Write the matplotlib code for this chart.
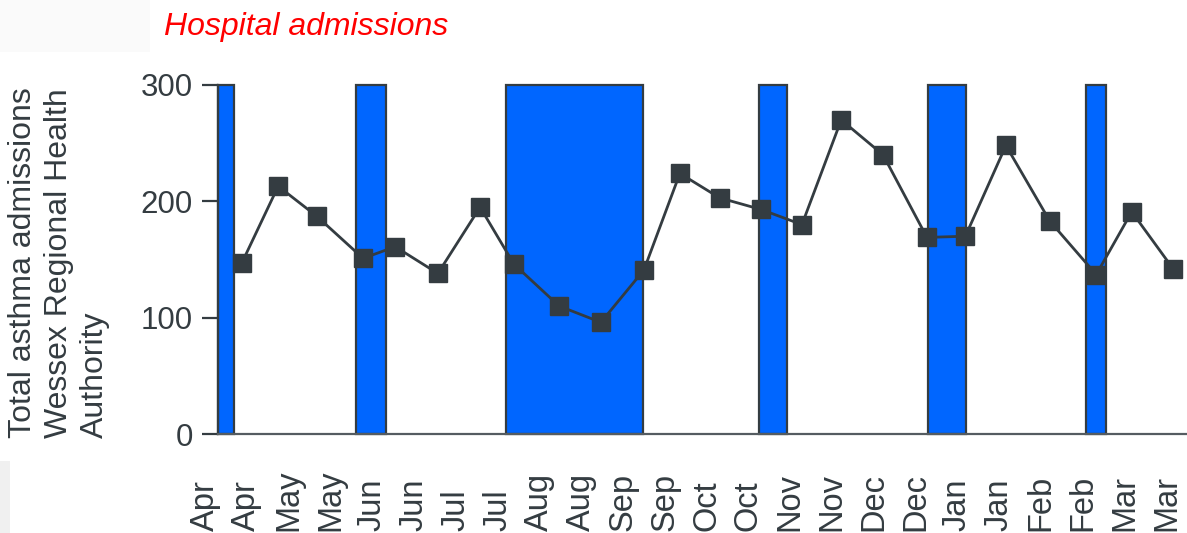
import matplotlib
matplotlib.use("Agg")
import matplotlib.pyplot as plt
import matplotlib.patches as mpatches
import matplotlib.transforms as mtransforms

# ── Data ──────────────────────────────────────────────────────────────────────
# Half-month periods across the year (two labels per month)
period_labels = ["Apr", "Apr", "May", "May", "Jun", "Jun", "Jul", "Jul",
                 "Aug", "Aug", "Sep", "Sep", "Oct", "Oct", "Nov", "Nov",
                 "Dec", "Dec", "Jan", "Jan", "Feb", "Feb", "Mar", "Mar"]

# When each count was taken, in half-month units from the start of April
count_time = [0.88, 1.75, 2.68, 3.78, 4.55, 5.57, 6.58, 7.39,
              8.47, 9.47, 10.50, 11.36, 12.31, 13.30, 14.28, 15.22,
              16.22, 17.27, 18.19, 19.16, 20.21, 21.32, 22.17, 23.16]

# Total asthma admissions, Wessex RHA
admissions = [147, 213, 187, 151, 161, 138, 195, 146,
              110, 96, 141, 224, 203, 193, 180, 270,
              240, 169, 170, 248, 183, 137, 191, 142]

# School holidays: (start, end) in the same half-month units
holiday_start = [0.32, 3.60, 7.20, 13.25, 17.29, 21.07]
holiday_end   = [0.69, 4.32, 10.47, 13.92, 18.21, 21.55]
holiday_top   = 300

# ── Style ─────────────────────────────────────────────────────────────────────
INK = "#343c41"
BLUE = "#0066ff"
FONT = ["Liberation Sans", "DejaVu Sans"]
plt.rcParams["font.family"] = FONT

W, H = 1187, 533
fig = plt.figure(figsize=(W / 100, H / 100), dpi=100)
ax = fig.add_axes([218 / W, (H - 434) / H, (W - 218) / W, (434 - 85) / H])

ax.set_xlim(0.31, 0.31 + (W - 218) / 41.8)
ax.set_ylim(0, 300)

# Holiday bars
for s, e in zip(holiday_start, holiday_end):
    ax.bar(s, holiday_top, width=e - s, align="edge", color=BLUE,
           edgecolor=INK, linewidth=1.6, zorder=1, clip_on=False)

# Admissions line
ax.plot(count_time, admissions, color=INK, lw=2.0, marker="s",
        markersize=12.5, markerfacecolor=INK, markeredgecolor=INK,
        zorder=3, clip_on=False)

# Axes styling
for side in ["top", "right"]:
    ax.spines[side].set_visible(False)
ax.spines["left"].set_color(INK)
ax.spines["left"].set_linewidth(1.6)
ax.spines["bottom"].set_color("#555c61")
ax.spines["bottom"].set_linewidth(1.6)

ax.set_yticks([0, 100, 200, 300])
ax.tick_params(axis="y", length=11.5, width=1.6, color=INK, pad=6.5,
               labelsize=22.5, labelcolor=INK)
ax.set_xticks([])

# Rotated period labels, anchored at their start along the bottom edge
trans = mtransforms.blended_transform_factory(ax.transData, ax.transAxes)
for i, lab in enumerate(period_labels):
    ax.text(i, (434 - 531) / (434 - 85), lab, transform=trans,
            rotation=90, ha="center", va="bottom", fontsize=23.5,
            color=INK, clip_on=False)

# Y axis title
fig.text(8 / W, (H - 438) / H,
         "Total asthma admissions\nWessex Regional Health\nAuthority",
         rotation=90, ha="left", va="bottom", multialignment="left",
         fontsize=23, color=INK, linespacing=1.27)

# Panel heading
fig.text(164 / W, 1 - 12 / H, "Hospital admissions", ha="left", va="top",
         fontsize=23, style="italic", color="#ff0000")

# Faint scan marks at the left edge
fig.patches.append(mpatches.Rectangle((0, 1 - 52 / H), 150 / W, 52 / H,
                                      transform=fig.transFigure,
                                      facecolor="#fafafa", edgecolor="none",
                                      zorder=-5))
fig.patches.append(mpatches.Rectangle((0, 0), 10 / W, 72 / H,
                                      transform=fig.transFigure,
                                      facecolor="#f0f0f0", edgecolor="none",
                                      zorder=-5))

fig.savefig("out.png", dpi=100)
